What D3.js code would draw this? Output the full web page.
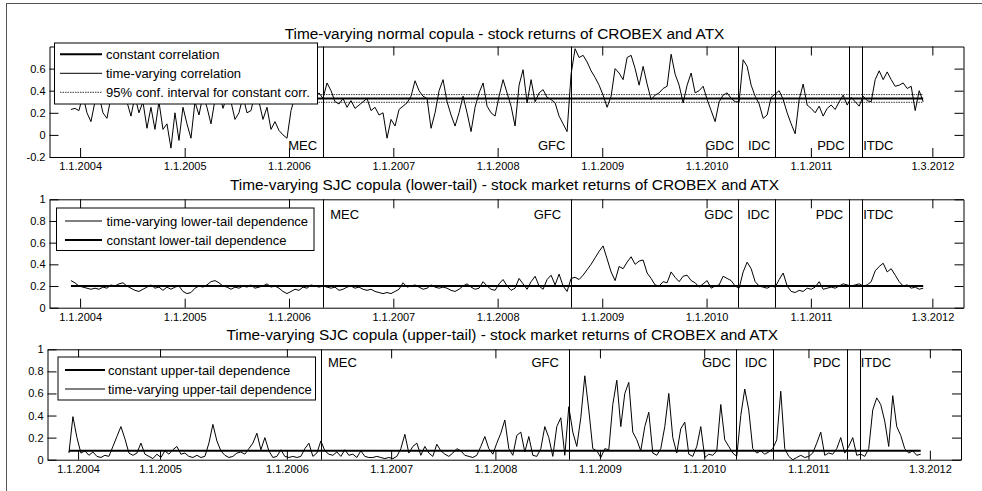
<!DOCTYPE html>
<html><head><meta charset="utf-8">
<script src="https://cdn.jsdelivr.net/npm/d3@7"></script>
<style>
body{margin:0;background:#fff;}
svg{display:block;font-family:"Liberation Sans",Arial,Helvetica,sans-serif;}
</style></head><body>
<svg id="c" width="982" height="491"></svg>
<script>
// ---------------- DATA ----------------
const seriesStart = "2003-11-30";   // first observation
const seriesStepDays = 14;          // spacing of the read-off observations
const normalCorr = [0.23,0.24,0.22,0.36,0.2,0.12,0.3,0.36,0.2,0.15,
0.34,0.4,0.38,0.42,0.3,0.17,0.35,0.2,0.3,0.06,
0.25,0.05,0.3,0.05,0.1,-0.12,0.2,-0.05,0.25,0.1,
-0.03,0.3,0.18,0.36,0.25,0.1,0.32,0.4,0.24,0.35,
0.3,0.14,0.2,0.35,0.2,0.22,0.38,0.3,0.14,0.25,
0.05,0.12,0.04,0.0,-0.03,0.22,0.35,0.4,0.32,0.36,
0.3,0.34,0.38,0.33,0.47,0.4,0.3,0.28,0.33,0.25,
0.31,0.24,0.27,0.3,0.33,0.22,0.25,0.18,0.2,-0.03,
0.14,0.08,0.23,0.26,0.29,0.35,0.49,0.4,0.35,0.33,
0.06,0.2,0.4,0.5,0.3,0.18,0.08,0.2,0.35,0.2,
0.03,0.25,0.38,0.47,0.26,0.2,0.17,0.35,0.5,0.38,
0.26,0.08,0.45,0.59,0.29,0.5,0.3,0.38,0.41,0.34,
0.32,0.29,0.17,0.1,0.03,0.55,0.78,0.7,0.72,0.66,
0.58,0.52,0.45,0.36,0.25,0.35,0.6,0.56,0.5,0.7,
0.72,0.6,0.45,0.62,0.46,0.32,0.36,0.38,0.42,0.44,
0.73,0.55,0.45,0.29,0.45,0.56,0.38,0.4,0.44,0.32,
0.22,0.12,0.3,0.36,0.38,0.33,0.3,0.3,0.68,0.62,
0.45,0.35,0.28,0.15,0.18,0.34,0.37,0.4,0.32,0.2,
0.1,0.01,0.32,0.46,0.27,0.24,0.2,0.26,0.17,0.24,
0.27,0.23,0.3,0.36,0.27,0.34,0.3,0.26,0.35,0.31,
0.3,0.5,0.58,0.5,0.57,0.5,0.44,0.45,0.47,0.42,
0.44,0.22,0.4,0.3];
const lowerTail = [0.25,0.23,0.2,0.19,0.18,0.17,0.18,0.17,0.19,0.18,
0.21,0.2,0.22,0.23,0.2,0.18,0.16,0.15,0.17,0.19,
0.21,0.18,0.19,0.16,0.19,0.17,0.19,0.2,0.15,0.13,
0.14,0.18,0.2,0.19,0.21,0.24,0.25,0.23,0.2,0.19,
0.17,0.19,0.18,0.2,0.19,0.21,0.18,0.19,0.2,0.22,
0.19,0.2,0.18,0.15,0.13,0.15,0.17,0.16,0.19,0.18,
0.21,0.2,0.19,0.2,0.19,0.18,0.19,0.16,0.17,0.19,
0.2,0.18,0.19,0.17,0.16,0.17,0.15,0.14,0.13,0.14,
0.13,0.15,0.17,0.23,0.19,0.2,0.21,0.19,0.17,0.18,
0.21,0.19,0.18,0.19,0.18,0.16,0.15,0.17,0.2,0.22,
0.19,0.17,0.18,0.24,0.2,0.17,0.16,0.22,0.26,0.2,
0.16,0.18,0.27,0.22,0.17,0.24,0.29,0.2,0.17,0.26,
0.3,0.21,0.31,0.2,0.15,0.27,0.28,0.26,0.3,0.35,
0.4,0.46,0.52,0.57,0.45,0.33,0.25,0.38,0.36,0.42,
0.47,0.4,0.43,0.44,0.32,0.27,0.21,0.2,0.24,0.23,
0.33,0.28,0.24,0.29,0.3,0.25,0.23,0.19,0.22,0.25,
0.18,0.2,0.21,0.29,0.27,0.25,0.2,0.18,0.33,0.42,
0.36,0.24,0.2,0.19,0.18,0.2,0.19,0.26,0.32,0.2,
0.15,0.14,0.16,0.15,0.18,0.17,0.19,0.24,0.17,0.18,
0.19,0.18,0.2,0.22,0.21,0.2,0.21,0.22,0.2,0.21,
0.24,0.34,0.38,0.41,0.33,0.36,0.3,0.24,0.2,0.21,
0.18,0.19,0.17,0.18];
const upperTail = [0.06,0.39,0.2,0.06,0.08,0.04,0.07,0.03,0.02,0.04,
0.03,0.12,0.21,0.3,0.19,0.06,0.04,0.06,0.15,0.05,
0.03,0.01,0.05,0.02,0.08,0.05,0.09,0.12,0.05,0.06,
0.03,0.02,0.04,0.02,0.03,0.15,0.32,0.17,0.08,0.04,
0.02,0.03,0.06,0.07,0.05,0.1,0.15,0.24,0.09,0.2,
0.08,0.02,0.03,0.09,0.03,0.02,0.03,0.02,0.03,0.1,
0.15,0.03,0.06,0.17,0.08,0.05,0.04,0.07,0.03,0.09,
0.04,0.05,0.02,0.08,0.03,0.02,0.02,0.03,0.02,0.01,
0.02,0.01,0.03,0.1,0.23,0.06,0.12,0.15,0.04,0.12,
0.06,0.03,0.14,0.08,0.05,0.03,0.06,0.1,0.08,0.04,
0.03,0.02,0.04,0.12,0.21,0.1,0.05,0.15,0.24,0.36,
0.1,0.04,0.22,0.25,0.07,0.21,0.04,0.03,0.1,0.3,
0.2,0.03,0.3,0.38,0.04,0.48,0.25,0.12,0.38,0.76,
0.45,0.1,0.08,0.02,0.1,0.09,0.5,0.72,0.3,0.6,
0.7,0.25,0.18,0.08,0.3,0.43,0.06,0.04,0.1,0.3,
0.6,0.2,0.06,0.28,0.34,0.05,0.03,0.12,0.3,0.02,
0.05,0.04,0.08,0.5,0.18,0.12,0.06,0.03,0.4,0.64,
0.45,0.1,0.06,0.08,0.05,0.07,0.1,0.18,0.62,0.1,
0.03,0.0,0.02,0.04,0.02,0.03,0.06,0.15,0.25,0.04,
0.06,0.05,0.1,0.2,0.06,0.12,0.2,0.04,0.05,0.03,
0.1,0.45,0.56,0.5,0.35,0.12,0.58,0.3,0.22,0.1,
0.06,0.08,0.04,0.05];

const constCorr = 0.33;
const ciBounds = [0.295, 0.365];
const constLower = 0.2;
const constUpper = 0.08;

const xDomainDates = ["2003-09-16", "2012-06-18"];
const xTickLabels = ["1.1.2004","1.1.2005","1.1.2006","1.1.2007","1.1.2008","1.1.2009","1.1.2010","1.1.2011","1.3.2012"];
const xTickDates = ["2004-01-01","2005-01-01","2006-01-01","2007-01-01","2008-01-01","2009-01-01","2010-01-01","2011-01-01","2012-03-01"];
const xTickDatesUpperPanel = ["2004-01-01","2004-10-14","2006-01-01","2007-01-01","2008-01-01","2009-01-01","2010-01-01","2011-01-01","2012-03-01"];
const yTicksCorr = [-0.2, 0, 0.2, 0.4, 0.6];
const yTicksTail = [0, 0.2, 0.4, 0.6, 0.8, 1];

const eventNames = ["MEC","GFC","GDC","IDC","PDC","ITDC"];
const eventDates = ["2006-05-01","2008-09-14","2010-04-22","2010-08-30","2011-05-16","2011-06-30"];
const eventLabelDatesTop = ["2005-12-29","2008-05-21","2009-12-27","2010-05-26","2011-01-23","2011-07-03"];
const eventLabelDatesTail = ["2006-05-25","2008-05-06","2009-12-24","2010-05-23","2011-01-18","2011-07-03"];

const titles = [
  "Time-varying normal copula - stock returns of CROBEX and ATX",
  "Time-varying SJC copula (lower-tail) - stock market returns of CROBEX and ATX",
  "Time-varying SJC copula (upper-tail) - stock market returns of CROBEX and ATX"
];
const legendCorr = ["constant correlation","time-varying correlation","95% conf. interval for constant corr."];
const legendLower = ["time-varying lower-tail dependence","constant lower-tail dependence"];
const legendUpper = ["constant upper-tail dependence","time-varying upper-tail dependence"];

// ---------------- DRAWING ----------------
const parse = d3.timeParse("%Y-%m-%d");
const t0 = parse(seriesStart);
const dates = normalCorr.map((_, i) => d3.timeDay.offset(t0, i * seriesStepDays));
const xDomain = xDomainDates.map(parse);
const svg = d3.select("#c");

svg.append("rect").attr("x", 6.5).attr("y", 3.5).attr("width", 1000).attr("height", 600)
  .attr("fill", "none").attr("stroke", "#555").attr("stroke-width", 1);

const STY = {
  thick: {w: 2, dash: null},
  thin: {w: 1, dash: null},
  dot: {w: 0.8, dash: "1.5,1"}
};

function panel(cfg) {
  const x = d3.scaleTime().domain(xDomain).range([cfg.left, cfg.right]);
  const y = d3.scaleLinear().domain(cfg.yDomain).range([cfg.bottom, cfg.top]);
  const g = svg.append("g");

  // time-varying series
  const line = d3.line().x((d, i) => x(dates[i])).y(d => y(d));
  g.append("path").datum(cfg.values).attr("d", line)
    .attr("fill", "none").attr("stroke", "#000").attr("stroke-width", 1).attr("stroke-linejoin", "round");

  // horizontal constants
  cfg.hlines.forEach(h => {
    const s = STY[h.style];
    g.append("line").attr("x1", x(dates[0])).attr("x2", x(dates[dates.length - 1]))
      .attr("y1", y(h.v)).attr("y2", y(h.v))
      .attr("stroke", "#000").attr("stroke-width", s.w).attr("stroke-dasharray", s.dash);
  });

  // events
  eventDates.forEach(d => {
    const xx = Math.round(x(parse(d))) + 0.5;
    g.append("line").attr("x1", xx).attr("x2", xx).attr("y1", cfg.top).attr("y2", cfg.bottom)
      .attr("stroke", "#000").attr("stroke-width", 1);
  });
  eventNames.forEach((n, i) => {
    g.append("text").attr("x", x(parse(cfg.labelDates[i]))).attr("y", y(cfg.labelY))
      .attr("font-size", 13).attr("fill", "#000").text(n);
  });

  // axes
  const tv = cfg.xTicks.map(parse);
  const styleAxis = a => {
    a.attr("font-family", null).attr("font-size", null);
    a.selectAll("path,line").attr("stroke", "#000");
    a.selectAll("text").attr("font-size", 11).attr("fill", "#000");
  };
  const ab = g.append("g").attr("transform", `translate(0,${cfg.bottom})`)
    .call(d3.axisBottom(x).tickValues(tv).tickFormat((d, i) => xTickLabels[i]).tickSize(-9).tickSizeOuter(0).tickPadding(5.5));
  styleAxis(ab);
  const at = g.append("g").attr("transform", `translate(0,${cfg.top})`)
    .call(d3.axisTop(x).tickValues(tv).tickFormat("").tickSize(-9).tickSizeOuter(0));
  styleAxis(at);
  const al = g.append("g").attr("transform", `translate(${cfg.left},0)`)
    .call(d3.axisLeft(y).tickValues(cfg.yTicks).tickFormat(d => String(+d.toFixed(1))).tickSize(-9).tickSizeOuter(0).tickPadding(4));
  styleAxis(al);
  const ar = g.append("g").attr("transform", `translate(${cfg.right},0)`)
    .call(d3.axisRight(y).tickValues(cfg.yTicks).tickFormat("").tickSize(-9).tickSizeOuter(0));
  styleAxis(ar);

  // title
  g.append("text").attr("x", (cfg.left + cfg.right) / 2 - 2).attr("y", cfg.titleY)
    .attr("text-anchor", "middle").attr("font-size", 15.4).attr("fill", "#000").text(cfg.title);

  // legend
  const L = cfg.legend;
  g.append("rect").attr("x", L.x + 0.5).attr("y", L.y + 0.5).attr("width", L.w).attr("height", L.h)
    .attr("fill", "#fff").attr("stroke", "#000").attr("stroke-width", 1);
  L.items.forEach((it, i) => {
    const s = STY[it.style];
    const ry = L.rows[i];
    g.append("line").attr("x1", L.s0).attr("x2", L.s1).attr("y1", ry).attr("y2", ry)
      .attr("stroke", "#000").attr("stroke-width", s.w).attr("stroke-dasharray", s.dash);
    g.append("text").attr("x", L.tx).attr("y", ry + 4.6).attr("font-size", 13).attr("fill", "#000").text(it.label);
  });
}

panel({
  left: 49.5, right: 963.5, top: 46.5, bottom: 157, yDomain: [-0.2, 0.8], yTicks: yTicksCorr,
  values: normalCorr, xTicks: xTickDates, title: titles[0], titleY: 39,
  hlines: [{v: ciBounds[0], style: "dot"}, {v: ciBounds[1], style: "dot"}, {v: constCorr, style: "thick"}],
  labelDates: eventLabelDatesTop, labelY: -0.14,
  legend: {x: 54, y: 42.5, w: 263, h: 61, rows: [54.3, 73.3, 92.3], s0: 60, s1: 102, tx: 106,
    items: [{label: legendCorr[0], style: "thick"}, {label: legendCorr[1], style: "thin"}, {label: legendCorr[2], style: "dot"}]}
});
panel({
  left: 49.5, right: 963.5, top: 199.3, bottom: 307.7, yDomain: [0, 1], yTicks: yTicksTail,
  values: lowerTail, xTicks: xTickDates, title: titles[1], titleY: 189.5,
  hlines: [{v: constLower, style: "thick"}],
  labelDates: eventLabelDatesTail, labelY: 0.82,
  legend: {x: 56, y: 207.5, w: 257.5, h: 42.5, rows: [221, 240], s0: 65, s1: 102, tx: 106.5,
    items: [{label: legendLower[0], style: "thin"}, {label: legendLower[1], style: "thick"}]}
});
panel({
  left: 47.5, right: 961, top: 349.3, bottom: 459.7, yDomain: [0, 1], yTicks: yTicksTail,
  values: upperTail, xTicks: xTickDatesUpperPanel, title: titles[2], titleY: 339.5,
  hlines: [{v: constUpper, style: "thick"}],
  labelDates: eventLabelDatesTail, labelY: 0.84,
  legend: {x: 57.5, y: 356.5, w: 257.5, h: 43, rows: [370, 389], s0: 65, s1: 105, tx: 108,
    items: [{label: legendUpper[0], style: "thick"}, {label: legendUpper[1], style: "thin"}]}
});
</script>
</body></html>
